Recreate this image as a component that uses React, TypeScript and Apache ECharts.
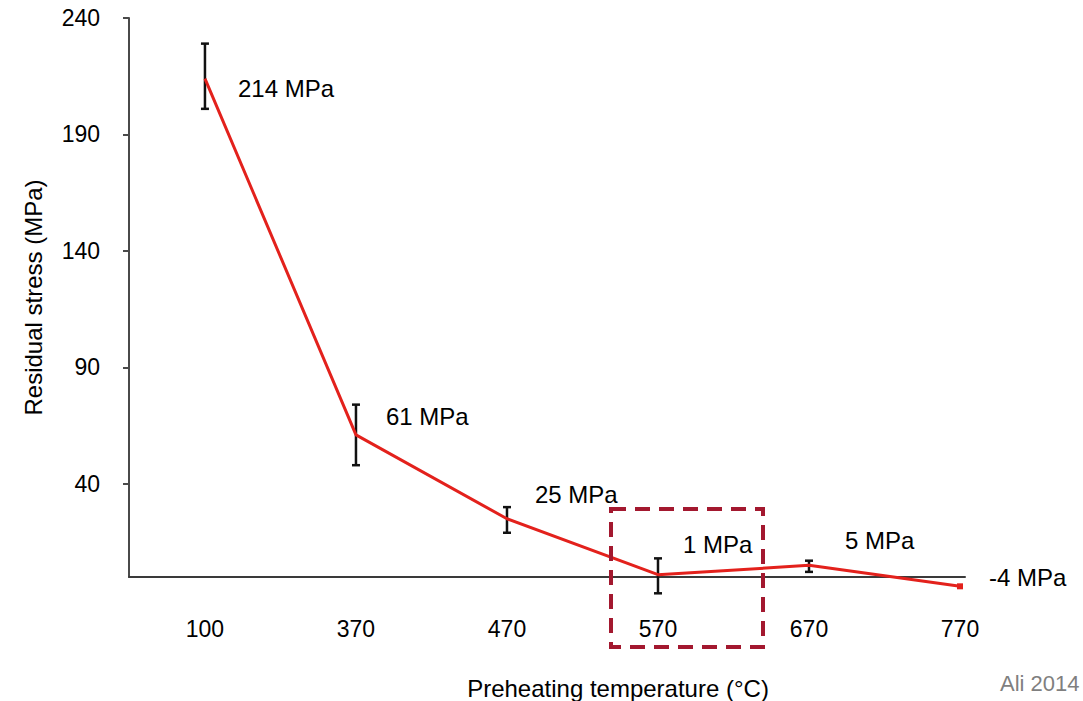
import React, { useEffect, useRef } from "react";
import * as echarts from "echarts";

const categories = ["100", "370", "470", "570", "670", "770"];
const stress = [214, 61, 25, 1, 5, -4];
const errLow = [201, 48, 19, -7, 2.2, -4];
const errHigh = [229, 74, 30, 8, 7, -4];
const pointLabels = ["214 MPa", "61 MPa", "25 MPa", "1 MPa", "5 MPa", "-4 MPa"];
const yTicks = [40, 90, 140, 190, 240];

// label layout (offsets relative to point), kept separate from the data
const labelOffsets = [
  [28, 10],
  [25, -18],
  [23, -24],
  [20, -30],
  [31, -25],
  [21, -9],
];

const FONT = "Liberation Sans, Arial, sans-serif";

export default function App() {
  const ref = useRef<HTMLDivElement>(null);

  useEffect(() => {
    if (!ref.current) return;
    const chart = echarts.init(ref.current, null, { renderer: "svg" });
    const xIdx = categories.map((_, i) => i);
    const lineData = xIdx.map((i) => [i, stress[i]]);
    const errData = xIdx
      .filter((i) => errHigh[i] !== errLow[i])
      .map((i) => [i, errLow[i], errHigh[i]]);

    const option: any = {
      animation: false,
      backgroundColor: "#ffffff",
      textStyle: { fontFamily: FONT },
      grid: {
        left: 129,
        right: 118,
        top: 18,
        bottom: 124,
        outerBoundsMode: "none",
        containLabel: false,
      },
      xAxis: {
        type: "value",
        min: -0.503,
        max: 5.033,
        splitLine: { show: false },
        axisLine: { onZero: true, lineStyle: { color: "#3a3a3a", width: 2 } },
        axisTick: { show: false },
        axisLabel: {
          customValues: xIdx,
          formatter: (v: number) => categories[Math.round(v)] ?? "",
          color: "#000",
          fontSize: 23,
          fontFamily: FONT,
          margin: 40,
        },
        name: "Preheating temperature (°C)",
        nameLocation: "middle",
        nameGap: 99,
        nameTextStyle: {
          color: "#000",
          fontSize: 24,
          fontFamily: FONT,
          padding: [0, 0, 0, 142],
        },
      },
      yAxis: {
        type: "value",
        min: 0,
        max: 240,
        splitLine: { show: false },
        axisLine: { show: true, onZero: false, lineStyle: { color: "#4a4a4a", width: 2 } },
        axisTick: {
          show: true,
          length: 6,
          customValues: yTicks,
          lineStyle: { color: "#4a4a4a", width: 2 },
        },
        axisLabel: {
          customValues: yTicks,
          color: "#000",
          fontSize: 23,
          fontFamily: FONT,
          margin: 29,
        },
        name: "Residual stress (MPa)",
        nameLocation: "middle",
        nameGap: 84,
        nameTextStyle: { color: "#000", fontSize: 24, fontFamily: FONT },
      },
      series: [
        {
          type: "custom",
          clip: false,
          z: 3,
          data: errData,
          renderItem: (params: any, api: any) => {
            const x = api.value(0);
            const lo = api.coord([x, api.value(1)]);
            const hi = api.coord([x, api.value(2)]);
            const w = 4;
            const style = { stroke: "#111", lineWidth: 2.5 };
            return {
              type: "group",
              children: [
                { type: "line", shape: { x1: lo[0], y1: lo[1], x2: hi[0], y2: hi[1] }, style },
                { type: "line", shape: { x1: lo[0] - w, y1: lo[1], x2: lo[0] + w, y2: lo[1] }, style },
                { type: "line", shape: { x1: hi[0] - w, y1: hi[1], x2: hi[0] + w, y2: hi[1] }, style },
              ],
            };
          },
        },
        {
          type: "line",
          clip: false,
          z: 4,
          data: lineData,
          symbol: "rect",
          symbolSize: (_v: any, p: any) => (p.dataIndex === stress.length - 1 ? 6 : 0),
          itemStyle: { color: "#e3211c" },
          lineStyle: { color: "#e3211c", width: 3 },
          label: {
            show: true,
            position: "right",
            distance: 5,
            color: "#000",
            fontSize: 24,
            fontFamily: FONT,
            formatter: (p: any) => pointLabels[p.dataIndex],
          },
          labelLayout: (p: any) => {
            const o = labelOffsets[p.dataIndex] || [0, 0];
            return { dx: o[0], dy: o[1] };
          },
          emphasis: { disabled: true },
        },
      ],
      graphic: [
        {
          type: "rect",
          shape: { x: 611, y: 509, width: 152, height: 138 },
          style: { fill: "none", stroke: "#a3182f", lineWidth: 4, lineDash: [15, 9] },
          z: 10,
        },
        {
          type: "text",
          x: 1000,
          y: 683,
          style: {
            text: "Ali 2014",
            fill: "#7f7f7f",
            fontSize: 22,
            fontFamily: FONT,
            verticalAlign: "middle",
          },
        },
      ],
    };

    chart.setOption(option);
    return () => chart.dispose();
  }, []);

  return (
    <div
      ref={ref}
      style={{ position: "fixed", left: 0, top: 0, width: 1083, height: 701 }}
    />
  );
}
